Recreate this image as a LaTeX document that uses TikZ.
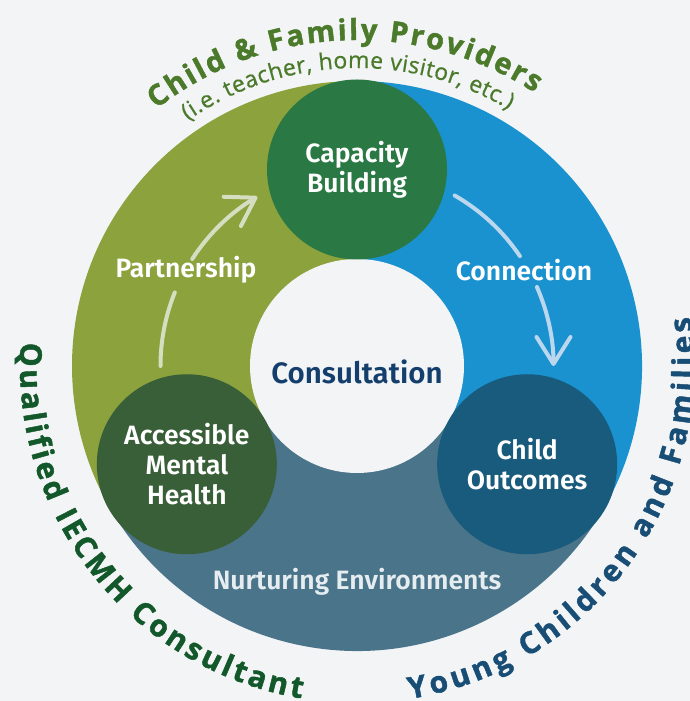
\documentclass[tikz,border=0pt]{standalone}
\usepackage{fontspec}
\setmainfont{Fira Sans}[BoldFont={* SemiBold}]
\newfontfamily\arcfont{Open Sans}[BoldFeatures={FakeBold=1.5}]
\newfontfamily\arcmed{Open Sans}[FakeBold=0.6]
\usetikzlibrary{decorations.text, arrows.meta}
\definecolor{bgc}{HTML}{F3F4F6}
\definecolor{cOlive}{HTML}{8CA23D}
\definecolor{cBlue}{HTML}{1A92D0}
\definecolor{cSlate}{HTML}{4A7489}
\definecolor{cCap}{HTML}{2A7843}
\definecolor{cAcc}{HTML}{395F38}
\definecolor{cChild}{HTML}{195B7C}
\definecolor{cNavy}{HTML}{143F6D}
\definecolor{cTopTxt}{HTML}{4A7A2A}
\definecolor{cLeftTxt}{HTML}{12582A}
\definecolor{cRightTxt}{HTML}{184D75}
\definecolor{cArrP}{HTML}{D5DEC0}
\definecolor{cArrC}{HTML}{BAD7EE}
\definecolor{cNurt}{HTML}{E6EDF1}
\tikzset{
  bub/.style={circle, minimum size=180pt, inner sep=0pt, text=white, align=center,
    font=\bfseries\fontsize{26.5}{30}\selectfont},
  lbl/.style={font=\bfseries\fontsize{26.5}{30}\selectfont, inner sep=0pt},
  arrowline/.style={line width=4pt, line cap=round},
  arrowtip/.style={arrowline, -{Straight Barb[length=27pt, width=34pt, line cap=round, line join=round]}},
}
\begin{document}
\begin{tikzpicture}[x=1pt,y=1pt]
\useasboundingbox (0,0) rectangle (690,701);
\fill[bgc] (0,0) rectangle (690,701);
\coordinate (C) at (357,335);
% sectors
\fill[cOlive] (C) -- ([shift={(90:285pt)}]C) arc[start angle=90, end angle=210, radius=285pt] -- cycle;
\fill[cSlate] (C) -- ([shift={(210:285pt)}]C) arc[start angle=210, end angle=330, radius=285pt] -- cycle;
\fill[cBlue] (C) -- ([shift={(-30:285pt)}]C) arc[start angle=-30, end angle=90, radius=285pt] -- cycle;
% core
\node[circle, fill=bgc, minimum size=214pt, inner sep=0pt] (core) at (C) {};
\node[font=\bfseries\fontsize{29.5}{33}\selectfont, text=cNavy, inner sep=0pt] (cons) at (357,329) {Consultation};
% bubbles
\node[bub, fill=cCap] (cap) at ([shift={(90:196.5pt)}]C) {Capacity\\Building};
\node[bub, fill=cAcc] (acc) at ([shift={(210:196.5pt)}]C) {Accessible\\Mental\\Health};
\node[bub, fill=cChild] (out) at ([shift={(330:196.5pt)}]C) {Child\\Outcomes};
% labels
\node[lbl, text=white] (part) at (186,431) {Partnership};
\node[lbl, text=white] (conn) at (524,431) {Connection};
\node[lbl, text=cNurt] (nurt) at (357,119) {Nurturing Environments};
% arrows
\coordinate (pA) at ([shift={(180:196.5pt)}]C);
\coordinate (pB) at ([shift={(147:196.5pt)}]C);
\coordinate (cA) at ([shift={(60.2:196.5pt)}]C);
\coordinate (cB) at ([shift={(23.7:196.5pt)}]C);
\draw[arrowline, cArrP] (pA) arc[start angle=180, end angle=158, radius=196.5pt];
\draw[arrowtip, cArrP] (pB) arc[start angle=147, end angle=120.5, radius=196.5pt];
\draw[arrowline, cArrC] (cA) arc[start angle=60.2, end angle=34, radius=196.5pt];
\draw[arrowtip, cArrC] (cB) arc[start angle=23.7, end angle=0, radius=196.5pt];
% curved outer texts
\path[decorate, decoration={text along path, text color=cTopTxt, text align={fit to path},
  text={|\arcfont\bfseries\fontsize{29}{32}\selectfont|Child {\&} Family Providers}}]
  ([shift={(128:326pt)}]C) arc[start angle=128, end angle=57, radius=326pt];
\path[decorate, decoration={text along path, text color=cTopTxt, text align={fit to path},
  text={|\arcmed\fontsize{23}{26}\selectfont|(i.e. teacher, home visitor, etc.)}}]
  ([shift={(124.6:298pt)}]C) arc[start angle=124.6, end angle=59.4, radius=298pt];
\path[decorate, decoration={text along path, text color=cLeftTxt, text align={fit to path},
  text={|\arcfont\bfseries\fontsize{30}{32}\selectfont|Qualified IECMH Consultant}}]
  ([shift={(176:337pt)}]C) arc[start angle=176, end angle=260.5, radius=337pt];
\path[decorate, decoration={text along path, text color=cRightTxt, text align={fit to path},
  text={|\arcfont\bfseries\fontsize{30}{32}\selectfont|Young Children and Families}}]
  ([shift={(279:337pt)}]C) arc[start angle=279, end angle=368.4, radius=337pt];
\end{tikzpicture}
\end{document}
